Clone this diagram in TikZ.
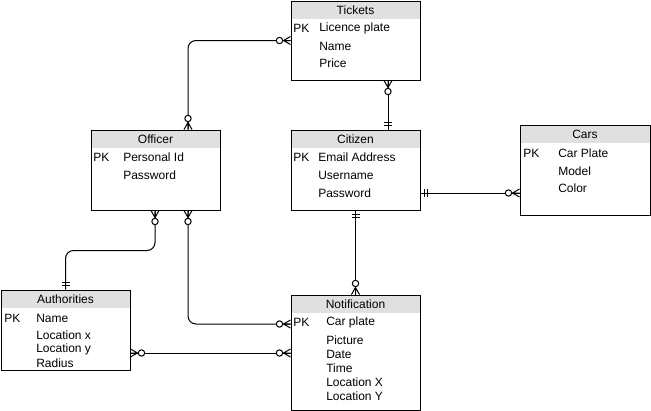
\documentclass[tikz,border=0pt]{standalone}
\usepackage{fontspec}
\setmainfont{Liberation Sans}
\begin{document}
\begin{tikzpicture}[x=0.75pt,y=-0.75pt,
  ln/.style={line width=0.75pt,draw=black},
  tbl/.style={draw=black,line width=0.75pt,inner sep=0pt},
  hd/.style={fill=black!12,draw=none},
  txt/.style={anchor=west,inner sep=0pt,font=\fontsize{9}{10}\selectfont},
  ttl/.style={inner sep=0pt,font=\fontsize{9}{10}\selectfont}]
\useasboundingbox (0,0) rectangle (651,411);
\newcommand\zmany[2]{\begin{scope}[shift={#1},rotate=#2]
  \draw[ln] (0,-4) -- (7,0) -- (0,4) (0,0) -- (7,0);
  \draw[ln,fill=white] (11,0) circle[radius=3.2];
\end{scope}}
\newcommand\mone[2]{\begin{scope}[shift={#1},rotate=#2]
  \draw[ln] (4,-4) -- (4,4) (7,-4) -- (7,4);
\end{scope}}
\newcommand\tbl[6]{%
  \fill[hd] (#2,#3) rectangle (#4,#3+18);
  \node[tbl,minimum width={(#4-#2)*0.75pt},minimum height={(#5-#3)*0.75pt}] (#1) at ({(#2+#4)/2},{(#3+#5)/2}) {};
  \node[ttl] (#1-title) at ({(#2+#4)/2},#3+9) {#6};}
% tables
\tbl{tickets}{291}{1}{420}{80}{Tickets}
\node[txt] (tickets-pk) at (293,28) {PK};
\node[txt] (tickets-a) at (319,28) {Licence plate};
\node[txt] (tickets-b) at (319,46) {Name};
\node[txt] (tickets-c) at (319,63) {Price};
\tbl{officer}{91}{130}{220}{210}{Officer}
\node[txt] (officer-pk) at (93,157) {PK};
\node[txt] (officer-a) at (123,157) {Personal Id};
\node[txt] (officer-b) at (123,175) {Password};
\tbl{citizen}{291}{130}{420}{210}{Citizen}
\node[txt] (citizen-pk) at (293,157) {PK};
\node[txt] (citizen-a) at (318,157) {Email Address};
\node[txt] (citizen-b) at (318,175) {Username};
\node[txt] (citizen-c) at (318,193) {Password};
\tbl{cars}{520}{125}{650}{215}{Cars}
\node[txt] (cars-pk) at (523,153) {PK};
\node[txt] (cars-a) at (558,153) {Car Plate};
\node[txt] (cars-b) at (558,171) {Model};
\node[txt] (cars-c) at (558,188) {Color};
\tbl{auth}{1}{290}{130}{370}{Authorities}
\node[txt] (auth-pk) at (4,318) {PK};
\node[txt] (auth-a) at (36,318) {Name};
\node[txt] (auth-b) at (36,335) {Location x};
\node[txt] (auth-c) at (36,349) {Location y};
\node[txt] (auth-d) at (36,363) {Radius};
\tbl{notif}{291}{295}{420}{410}{Notification}
\node[txt] (notif-pk) at (293,322) {PK};
\node[txt] (notif-a) at (326,322) {Car plate};
\node[txt] (notif-b) at (326,340) {Picture};
\node[txt] (notif-c) at (326,354) {Date};
\node[txt] (notif-d) at (326,368) {Time};
\node[txt] (notif-e) at (326,382) {Location X};
\node[txt] (notif-f) at (326,396) {Location Y};
% connectors
\draw[ln,rounded corners=6pt] (tickets.west) -| ([xshift={32.5*0.75pt}]officer.north);
\draw[ln] ([xshift={32.5*0.75pt}]tickets.south) -- ([xshift={32.5*0.75pt}]citizen.north);
\draw[ln] ([yshift={-23*0.75pt}]citizen.east) -- ([yshift={-23*0.75pt}]cars.west);
\draw[ln] (citizen.south) -- (notif.north);
\draw[ln,rounded corners=6pt] ([xshift={-0.5*0.75pt}]officer.south) -- ++(0,40) -| (auth.north);
\draw[ln,rounded corners=6pt] ([xshift={32.5*0.75pt}]officer.south) |- ([yshift={28.5*0.75pt}]notif.west);
\draw[ln] ([yshift={-23*0.75pt}]auth.east) -- ([yshift={-23*0.75pt}]auth.east -| notif.west);
% ends
\zmany{(tickets.west)}{180}
\zmany{([xshift={32.5*0.75pt}]officer.north)}{90}
\zmany{([xshift={32.5*0.75pt}]tickets.south)}{-90}
\mone{([xshift={32.5*0.75pt}]citizen.north)}{90}
\mone{([yshift={-23*0.75pt}]citizen.east)}{0}
\zmany{([yshift={-23*0.75pt}]cars.west)}{180}
\mone{(citizen.south)}{-90}
\zmany{(notif.north)}{90}
\zmany{([xshift={-0.5*0.75pt}]officer.south)}{-90}
\mone{(auth.north)}{90}
\zmany{([xshift={32.5*0.75pt}]officer.south)}{-90}
\zmany{([yshift={28.5*0.75pt}]notif.west)}{180}
\zmany{([yshift={-23*0.75pt}]auth.east)}{0}
\zmany{([yshift={-23*0.75pt}]auth.east -| notif.west)}{180}
\end{tikzpicture}
\end{document}
